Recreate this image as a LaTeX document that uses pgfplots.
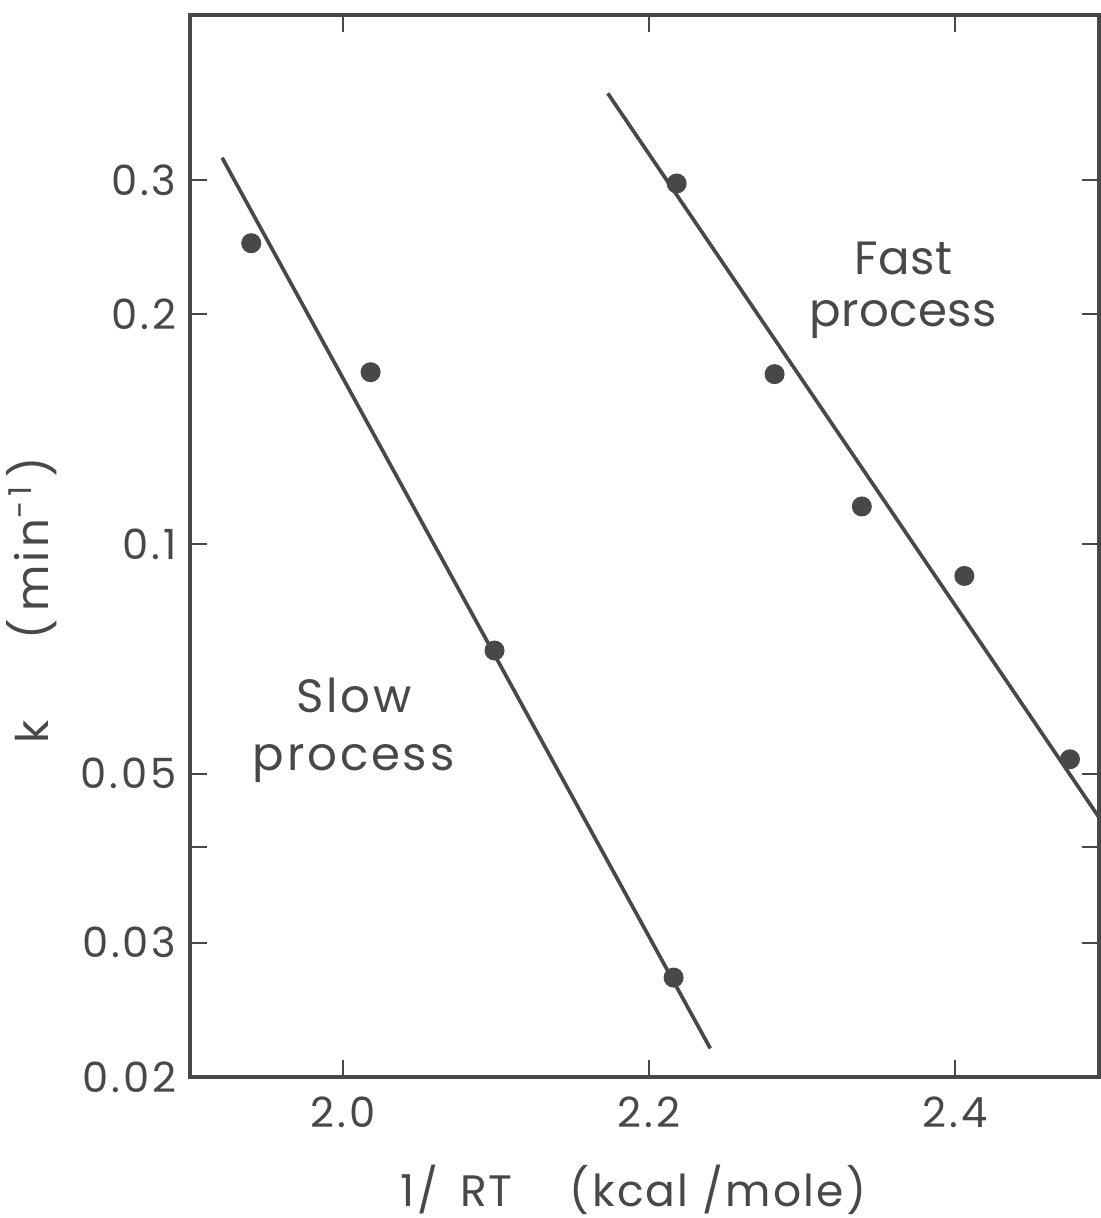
\documentclass[border=0pt]{standalone}
\usepackage{pgfplots}
\pgfplotsset{compat=1.18}
\usepackage{fontspec}
\setmainfont{Poppins}
\newfontfamily\labfont[LetterSpace=7]{Poppins}
\newfontfamily\xlabfont[LetterSpace=5]{Poppins}
\newfontfamily\txtfont[LetterSpace=1]{Poppins}
\newfontfamily\slowfont[LetterSpace=6]{Poppins}
\definecolor{ink}{RGB}{72,72,72}
\begin{document}
\begin{tikzpicture}
\begin{axis}[
  scale only axis,
  width=272.7pt, height=318.6pt,
  xmin=1.9, xmax=2.494,
  ymode=log, ymin=0.02, ymax=0.494,
  xtick={2.0,2.2,2.4},
  xticklabels={2.0,2.2,2.4},
  ytick={0.02,0.03,0.04,0.05,0.1,0.2,0.3},
  yticklabels={0.02,0.03,,0.05,0.1,0.2,0.3},
  minor ytick={},
  tick align=inside,
  major tick length=5pt,
  tick style={line width=0.6pt, ink},
  axis line style={line width=1.3pt, ink},
  /pgf/number format/assume math mode=true,
  ticklabel style={font=\labfont\fontsize{12.5}{13}\selectfont, text=ink},
  xticklabel style={yshift=-2.5pt},
  yticklabel style={xshift=-0.5pt},
  clip=true,
  clip mode=individual,
]
% Slow process
\addplot[ink, line width=1.1pt, no marks] coordinates {(1.921,0.321) (2.240,0.0218)};
\addplot[only marks, mark=*, mark size=2.8pt, mark options={fill=ink, draw=ink}] coordinates {
  (1.940,0.248) (2.018,0.168) (2.099,0.0725) (2.216,0.0270)};
% Fast process
\addplot[ink, line width=1.1pt, no marks] coordinates {(2.173,0.390) (2.494,0.0438)};
\addplot[only marks, mark=*, mark size=2.8pt, mark options={fill=ink, draw=ink}] coordinates {
  (2.218,0.297) (2.282,0.167) (2.339,0.112) (2.406,0.0908) (2.475,0.0522)};
\node[align=center, text=ink, font=\txtfont\fontsize{14}{15.5}\selectfont] at (axis cs:2.366,0.215) {Fast\\process};
\node[align=center, text=ink, font=\slowfont\fontsize{14}{17.5}\selectfont] at (axis cs:2.007,0.057) {Slow\\process};
\node[rotate=90, text=ink, font=\labfont\fontsize{13.5}{15}\selectfont] at (rel axis cs:-0.174,0.449) {k\hspace{1.8em}(\,min\textsuperscript{-\,1}\,)};
\node[text=ink, font=\xlabfont\fontsize{13.2}{15}\selectfont, anchor=west] at (rel axis cs:0.219,-0.106) {1/\hspace{0.5em}RT\hspace{1.3em}(kcal /mole)};
\end{axis}
\pgfresetboundingbox
\path ([shift={(-57pt,-42.3pt)}]current axis.south west) rectangle ([shift={(273pt,323.1pt)}]current axis.south west);
\end{tikzpicture}
\end{document}
